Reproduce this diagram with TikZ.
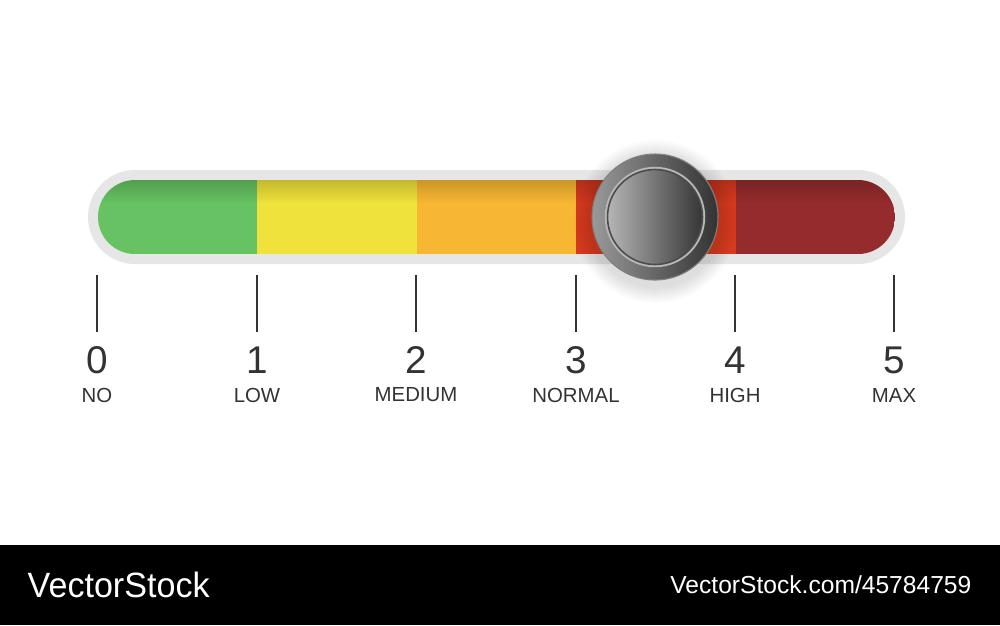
\documentclass[tikz,border=0pt]{standalone}
\usepackage{fontspec}
\setmainfont{Liberation Sans}
\usetikzlibrary{positioning}
\usetikzlibrary{fadings}
\definecolor{trackgray}{HTML}{E6E6E6}
\definecolor{levgreen}{HTML}{66C262}
\definecolor{levyellow}{HTML}{EFE23A}
\definecolor{levorange}{HTML}{F8B732}
\definecolor{levred}{HTML}{D83A1F}
\definecolor{levdark}{HTML}{952B2D}
\definecolor{inkgray}{HTML}{333333}
\tikzfading[name=topshade, top color=transparent!82, bottom color=transparent!100]
\tikzset{
    tick/.style = {draw=inkgray, line width=0.75pt},
    levnum/.style = {text=inkgray, inner sep=0pt, font=\fontsize{11}{13}\selectfont},
    levtext/.style = {text=inkgray, inner sep=0pt, font=\fontsize{5.8}{7}\selectfont},
    knob/.style = {circle, minimum size=1.26cm, inner sep=0pt, shading=axis, left color=black!40, right color=black!80, draw=black!50, line width=0.3pt},
    knobface/.style = {circle, minimum size=0.98cm, inner sep=0pt, shading=axis, left color=black!28, right color=black!80, draw=black!28, line width=0.7pt},
    bartext/.style = {text=white, inner sep=0pt}
}
\begin{document}
\begin{tikzpicture}
\useasboundingbox (0,0) rectangle (10,6.25);
\fill[white] (0,0) rectangle (10,6.25);
%
% track
\fill[trackgray, rounded corners=0.47cm] (0.88,3.61) rectangle (9.05,4.55);
\begin{scope}
\clip[rounded corners=0.37cm] (0.98,3.71) rectangle (8.95,4.45);
\fill[levgreen] (0.98,3.71) rectangle (2.57,4.45);
\fill[levyellow] (2.57,3.71) rectangle (4.17,4.45);
\fill[levorange] (4.17,3.71) rectangle (5.76,4.45);
\fill[levred] (5.76,3.71) rectangle (7.36,4.45);
\fill[levdark] (7.36,3.71) rectangle (8.95,4.45);
\fill[black, path fading=topshade] (0.98,4.22) rectangle (8.95,4.45);
\end{scope}
%
% knob
\fill[black, opacity=0.13, path fading=circle with fuzzy edge 20 percent] (6.55,4.04) circle (0.82);
\node[knob] at (6.55,4.08) (knob) {};
\node[knobface] at (knob.center) (face) {};
\draw[black!70, line width=0.45pt] (face.center) circle (0.475);
%
% ticks
\coordinate (t0) at (0.97,3.50);
\coordinate (t1) at (2.57,3.50);
\coordinate (t2) at (4.16,3.50);
\coordinate (t3) at (5.76,3.50);
\coordinate (t4) at (7.35,3.50);
\coordinate (t5) at (8.94,3.50);
\coordinate[below=0.57cm of t0] (b0);
\coordinate[below=0.57cm of t1] (b1);
\coordinate[below=0.57cm of t2] (b2);
\coordinate[below=0.57cm of t3] (b3);
\coordinate[below=0.57cm of t4] (b4);
\coordinate[below=0.57cm of t5] (b5);
\draw[tick] (t0) -- (b0);
\draw[tick] (t1) -- (b1);
\draw[tick] (t2) -- (b2);
\draw[tick] (t3) -- (b3);
\draw[tick] (t4) -- (b4);
\draw[tick] (t5) -- (b5);
%
\node[levnum] at (0.97,2.65) (n0) {0};
\node[levnum] at (2.57,2.65) (n1) {1};
\node[levnum] at (4.16,2.65) (n2) {2};
\node[levnum] at (5.76,2.65) (n3) {3};
\node[levnum] at (7.35,2.65) (n4) {4};
\node[levnum] at (8.94,2.65) (n5) {5};
\node[levtext] at (0.97,2.30) (l0) {NO};
\node[levtext] at (2.57,2.30) (l1) {LOW};
\node[levtext] at (4.16,2.30) (l2) {MEDIUM};
\node[levtext] at (5.76,2.30) (l3) {NORMAL};
\node[levtext] at (7.35,2.30) (l4) {HIGH};
\node[levtext] at (8.94,2.30) (l5) {MAX};
%
% footer
\fill[black] (0,0) rectangle (10,0.80);
\node[bartext, anchor=west, font=\fontsize{10}{12}\selectfont, xscale=0.97] at (0.27,0.40) (brand) {VectorStock};
\node[bartext, anchor=east, font=\fontsize{7}{9}\selectfont] at (9.72,0.40) (ref) {VectorStock.com/45784759};

\end{tikzpicture}
\end{document}
